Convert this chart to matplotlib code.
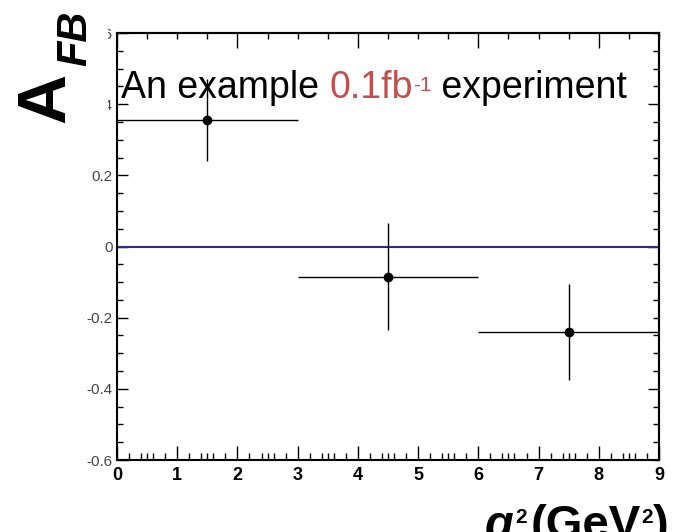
import numpy as np
import matplotlib
matplotlib.use('Agg')
import matplotlib.pyplot as plt
from matplotlib.patches import Rectangle

plt.rcParams['font.family'] = ['Liberation Sans', 'DejaVu Sans']

# data
q2_centre = [1.5, 4.5, 7.5]
q2_halfwidth = [1.5, 1.5, 1.5]
afb = [0.355, -0.085, -0.239]
afb_err = [0.115, 0.15, 0.135]

x_major = np.arange(0, 10, 1)
y_major = [-0.6, -0.4, -0.2, 0, 0.2, 0.4, 0.6]
y_labels = ['-0.6', '-0.4', '-0.2', '0', '0.2', '0.4', '0.6']

W, H = 683, 532
fig = plt.figure(figsize=(W / 100, H / 100), dpi=100)
ax = fig.add_axes([117 / W, 1 - 460 / H, (659 - 117) / W, (460 - 33) / H])

ax.set_xlim(0, 9)
ax.set_ylim(-0.6, 0.6)

# zero line
ax.plot([0, 9], [0, 0], color='#2e2e80', lw=1.5, zorder=2)

ax.errorbar(q2_centre, afb, xerr=q2_halfwidth, yerr=afb_err, fmt='o',
            color='black', ms=6, elinewidth=1.0, capsize=0, zorder=3)

for s in ax.spines.values():
    s.set_linewidth(1.5)

# bottom / left ticks
ax.set_xticks(x_major)
ax.set_xticklabels([str(v) for v in x_major], fontweight='bold', fontsize=13)
minor_x = [i + f for i in range(9) for f in (0.2, 0.4, 0.5, 0.6, 0.8)]
ax.set_xticks(minor_x, minor=True)
ax.set_yticks(y_major)
ax.set_yticklabels(y_labels, fontsize=11, color='#444444')
ax.set_yticks(np.arange(-0.6, 0.601, 0.05), minor=True)
ax.tick_params(axis='x', which='major', direction='in', length=10, width=1, pad=5)
ax.tick_params(axis='x', which='minor', direction='in', length=5, width=1)
ax.tick_params(axis='y', which='major', direction='in', length=8, width=1, pad=3)
ax.tick_params(axis='y', which='minor', direction='in', length=4.5, width=1)

# top / right ticks
top = ax.secondary_xaxis('top')
top.set_xticks([0, 2, 4, 6, 8])
top.set_xticks(np.arange(0, 9.01, 0.5), minor=True)
top.tick_params(which='major', direction='in', length=11, width=1, labeltop=False)
top.tick_params(which='minor', direction='in', length=4.5, width=1)
top.spines['top'].set_linewidth(1.5)

right = ax.secondary_yaxis('right')
right.set_yticks([-0.4, 0, 0.4])
right.set_yticks(np.arange(-0.6, 0.601, 0.05), minor=True)
right.tick_params(which='major', direction='in', length=8, width=1, labelright=False)
right.tick_params(which='minor', direction='in', length=4.5, width=1)
right.spines['right'].set_linewidth(1.5)

# white patch hiding the upper tick labels, as in the picture
fig.patches.append(Rectangle((75 / W, 1 - 115 / H), 33 / W, 95 / H,
                             transform=fig.transFigure, facecolor='white',
                             edgecolor='none', zorder=1))

# caption
red = '#c0504d'
t1 = fig.text(121 / W, 1 - 98 / H, 'An example ', fontsize=27, va='baseline', zorder=4)
t2 = ax.annotate('0.1fb', xy=(1, 0), xycoords=t1, va='bottom', ha='left',
                 fontsize=27, color=red, annotation_clip=False)
t3 = ax.annotate('-1', xy=(1, 1), xycoords=t2, va='top', ha='left',
                 fontsize=15, color=red, xytext=(0, -4),
                 textcoords='offset points', annotation_clip=False)
ax.annotate(' experiment', xy=(1, 0), xycoords=t2, va='bottom', ha='left',
            xytext=(13, 0), textcoords='offset points',
            fontsize=27, annotation_clip=False)

# axis titles
fig.text(46 / W, 1 - 98 / H, 'A', fontsize=50, fontweight='bold', rotation=90,
         ha='center', va='center', zorder=5)
fig.text(75 / W, 1 - 38 / H, 'FB', fontsize=30, fontweight='bold', fontstyle='italic',
         rotation=90, ha='center', va='center', zorder=5)

xs, ss = 34, 15
q = fig.text(485 / W, -6 / H, 'q', fontsize=xs, fontweight='bold',
             fontstyle='italic', va='baseline', zorder=5)
s1 = ax.annotate('2', xy=(1, 0), xycoords=q, va='bottom', ha='left', fontsize=ss,
                 fontweight='bold', xytext=(1, 15), textcoords='offset points',
                 annotation_clip=False)
g = ax.annotate('(GeV', xy=(1, 0), xycoords=(s1, q), va='bottom', ha='left',
                fontsize=xs, fontweight='bold', xytext=(3, 0),
                textcoords='offset points', annotation_clip=False)
s2 = ax.annotate('2', xy=(1, 0), xycoords=g, va='bottom', ha='left', fontsize=ss,
                 fontweight='bold', xytext=(0, 15), textcoords='offset points',
                 annotation_clip=False)
ax.annotate(')', xy=(1, 0), xycoords=(s2, g), va='bottom', ha='left',
            fontsize=xs, fontweight='bold', annotation_clip=False)

fig.savefig('out.png', dpi=100)
